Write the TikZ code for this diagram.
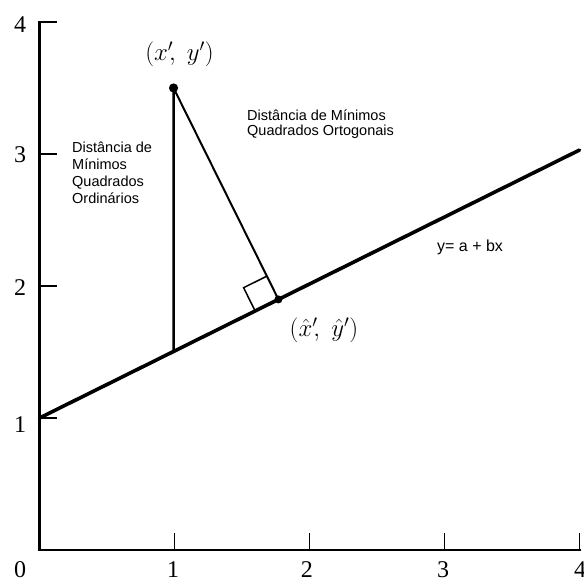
\documentclass[tikz,border=0pt]{standalone}
\usepackage{fontspec}
\setmainfont{Liberation Serif}
\newfontfamily\arialf{Liberation Sans}
\usetikzlibrary{calc}
\begin{document}
\begin{tikzpicture}[x=135pt,y=132pt,
  axis/.style={line width=2.3pt, line cap=rect},
  tickmark/.style={line width=1.8pt},
  regline/.style={line width=3.6pt, line cap=round},
  vline/.style={line width=2.6pt},
  pline/.style={line width=2pt},
  sqline/.style={line width=1.5pt},
  numlbl/.style={font=\fontsize{24}{24}\selectfont, inner sep=0pt},
  sanslbl/.style={font=\arialf\fontsize{14.5}{17}\selectfont, inner sep=0pt, align=left},
  ptlbl/.style={font=\fontsize{24}{24}\selectfont, inner sep=0pt}]
\useasboundingbox (-0.29259,-0.234848) rectangle (4.03333,4.166667);
\clip (-0.29259,-0.234848) rectangle (4.03333,4.166667);
% axes
\coordinate (O) at (0,0);
\coordinate (Ytop) at (0,4);
\coordinate (Xend) at (4,0);
\draw[axis] (Ytop) -- (O) -- (Xend);
\foreach \i in {1,2,3,4} {
  \draw[tickmark] (0,\i) -- ++(0.126,0);
  \draw[tickmark] (\i,0) -- ++(0,0.125);
}
% tick labels
\node[numlbl] (y4) at (-0.144,3.977) {4};
\node[numlbl] (y3) at (-0.144,2.992) {3};
\node[numlbl] (y2) at (-0.144,1.985) {2};
\node[numlbl] (y1) at (-0.144,0.947) {1};
\node[numlbl] (x0) at (-0.144,-0.148) {0};
\node[numlbl] (x1) at (0.989,-0.148) {1};
\node[numlbl] (x2) at (1.981,-0.148) {2};
\node[numlbl] (x3) at (2.989,-0.148) {3};
\node[numlbl] (x4) at (4.004,-0.148) {4};
% regression line
\coordinate (L0) at (0,1);
\coordinate (L1) at (4,3.03);
\draw[regline] (L0) -- (L1);
% point and distances
\coordinate (P) at (0.993,3.5);
\coordinate (Pb) at (P |- O);
\coordinate (V) at (intersection of P--Pb and L0--L1);
\coordinate (F) at ($(L0)!(P)!(L1)$);
\coordinate (A) at ($(F)!26pt!(P)$);
\coordinate (B) at ($(F)!26pt!(L0)$);
\coordinate (C) at ($(A)+(B)-(F)$);
\draw[vline] (P) -- (V);
\draw[pline] (P) -- (F);
\draw[sqline] (A) -- (C) -- (B);
\fill (P) circle (4.6pt);
\fill (F) circle (4pt);
% labels
\node[ptlbl] (Plbl) at (1.037,3.758) {$(x'\!,\; y')$};
\node[ptlbl] (Flbl) at (2.107,1.667) {$(\hat{x}'\!,\; \hat{y}')$};
\node[sanslbl, anchor=north west] (ols) at (0.2407,3.095) {Distância de\\Mínimos\\Quadrados\\Ordinários};
\node[sanslbl, anchor=north west, font=\arialf\fontsize{14.5}{15.5}\selectfont] (tls) at (1.537,3.338) {Distância de Mínimos\\Quadrados Ortogonais};
\node[inner sep=0pt, anchor=base west, font=\arialf\fontsize{16}{18}\selectfont] (eq) at (2.944,2.261) {y= a + bx};
\end{tikzpicture}
\end{document}
